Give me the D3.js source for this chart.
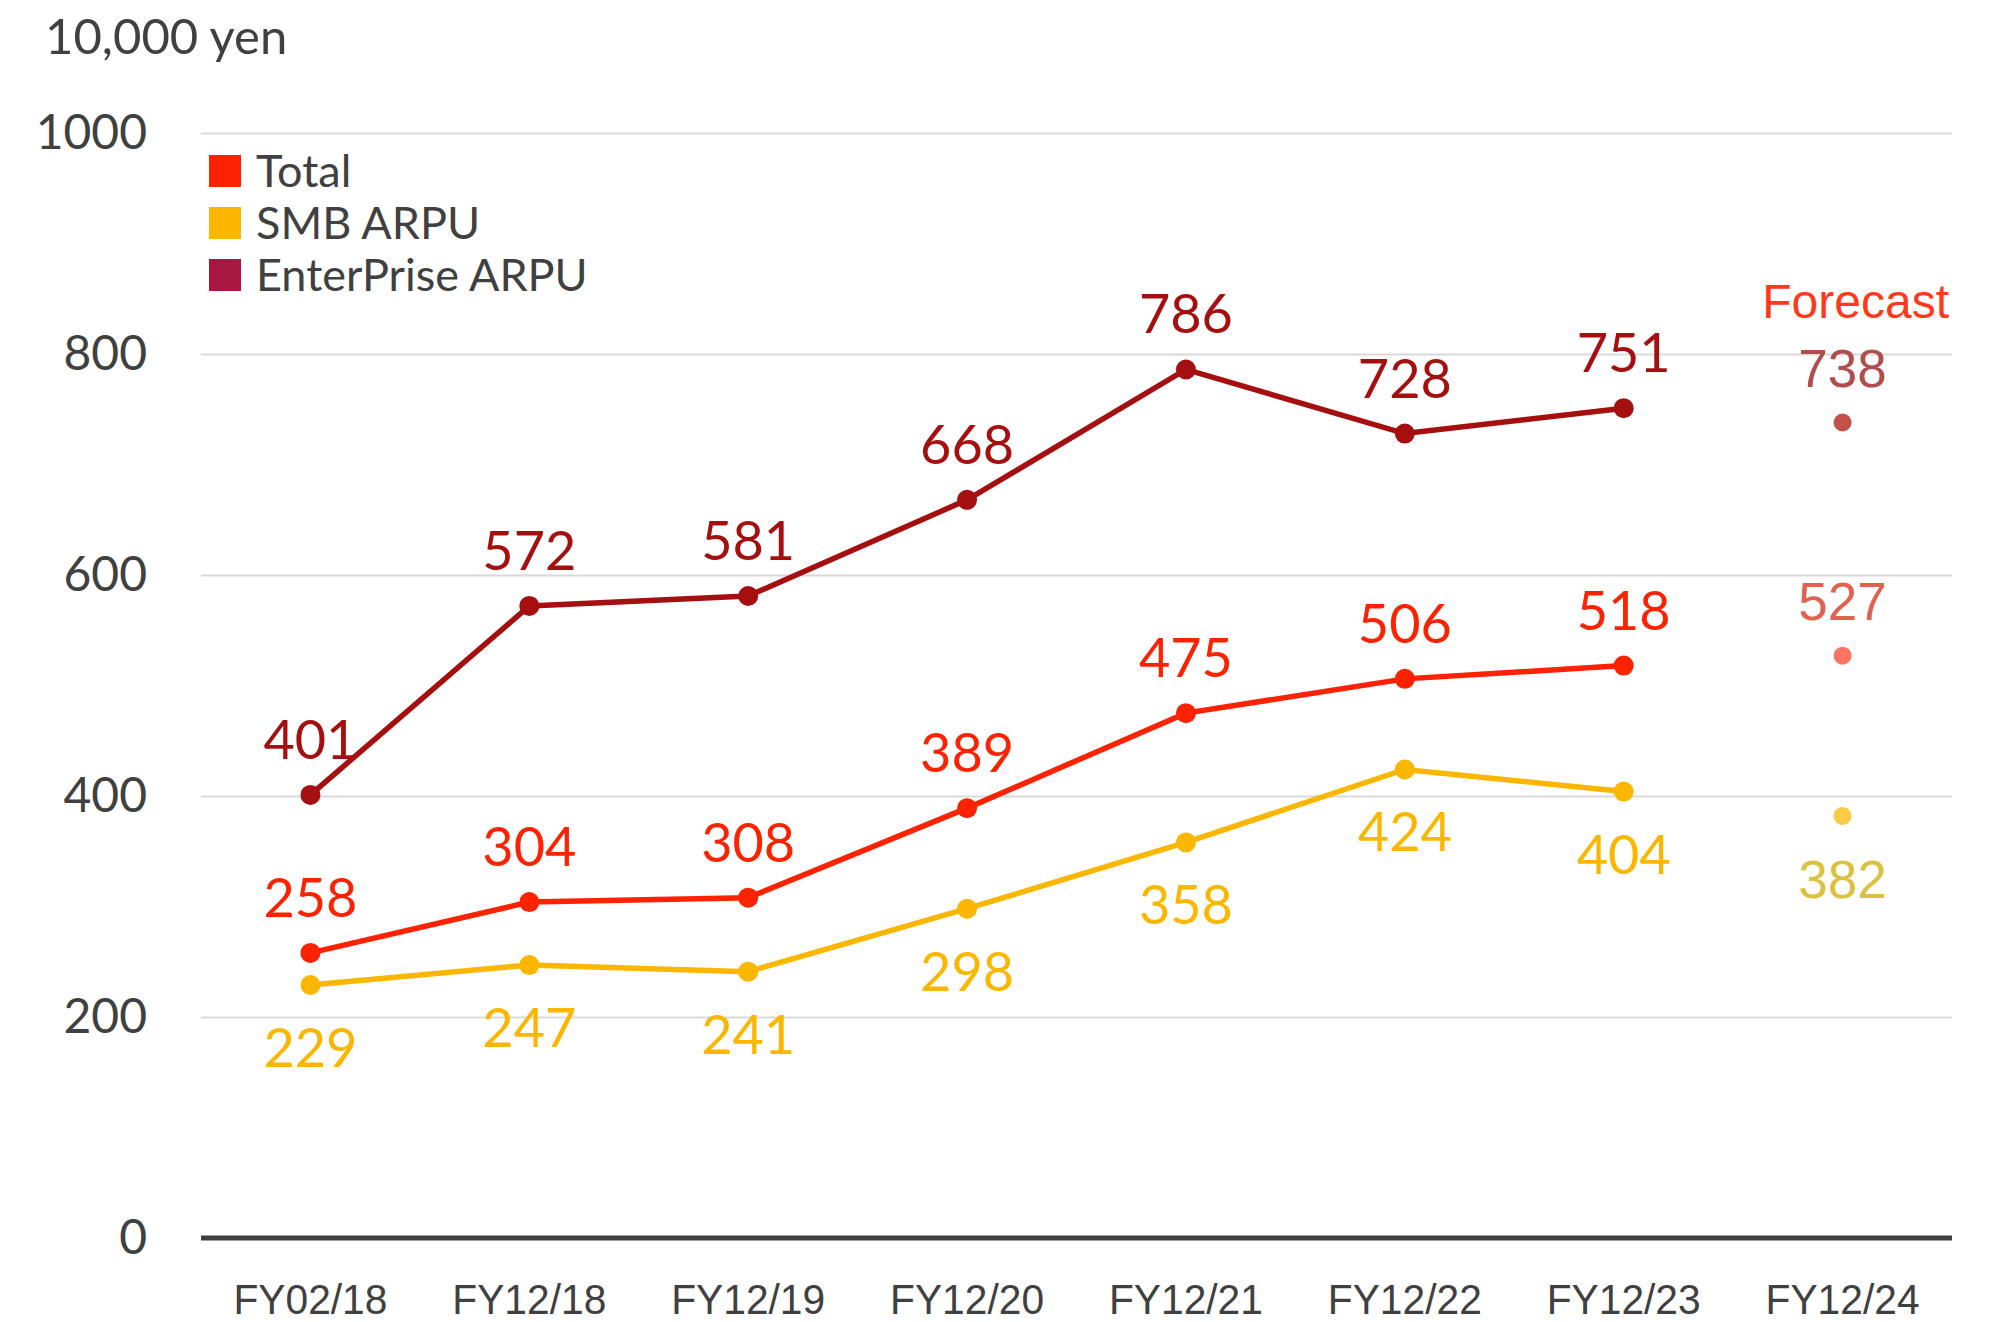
<!DOCTYPE html>
<html lang="en">
<head>
<meta charset="utf-8">
<title>ARPU chart</title>
<script src="https://d3js.org/d3.v7.min.js"></script>
<style>
  body { margin: 0; background: #fff; }
  svg { display: block; font-family: "Lato", "Noto Sans", sans-serif; }
</style>
</head>
<body>
<script>
// categories and values
const years = ["FY02/18", "FY12/18", "FY12/19", "FY12/20", "FY12/21", "FY12/22", "FY12/23", "FY12/24"];
const enterprise = [401, 572, 581, 668, 786, 728, 751];
const total = [258, 304, 308, 389, 475, 506, 518];
const smb = [229, 247, 241, 298, 358, 424, 404];
// FY12/24 forecast
const fcEnterprise = 738, fcTotal = 527, fcSmb = 382;
const yTicks = [0, 200, 400, 600, 800, 1000];

const W = 2008, H = 1322;
const svg = d3.select("body").append("svg").attr("width", W).attr("height", H);

const x = d3.scaleBand().domain(years).range([201, 1952]);
const y = d3.scaleLinear().domain([0, 1000]).range([1238, 133]);
const cx = d => x(d) + x.bandwidth() / 2;

// gridlines + y labels
const yAxis = svg.append("g")
  .attr("transform", "translate(201,0)")
  .call(d3.axisLeft(y).tickValues(yTicks).tickSize(-1751).tickPadding(54).tickFormat(d3.format("d")));
yAxis.select(".domain").remove();
yAxis.selectAll(".tick line").attr("stroke", "#d9d9d9").attr("stroke-width", 2);
yAxis.selectAll(".tick text").attr("fill", "#404040").style("font-size", "48px")
  .style("font-family", "Lato, sans-serif");

// baseline
svg.append("line").attr("x1", 201).attr("x2", 1952).attr("y1", y(0)).attr("y2", y(0))
  .attr("stroke", "#404040").attr("stroke-width", 5);

// x labels
const xAxis = svg.append("g").attr("transform", `translate(0,${y(0)})`)
  .call(d3.axisBottom(x).tickSize(0).tickPadding(46));
xAxis.select(".domain").remove();
xAxis.selectAll(".tick text").attr("fill", "#404040").style("font-size", "42px")
  .style("font-family", "Liberation Sans, sans-serif")
  .attr("textLength", 154).attr("lengthAdjust", "spacingAndGlyphs");

// unit label
svg.append("text").attr("x", 45).attr("y", 54).attr("fill", "#404040")
  .style("font-size", "49px").text("10,000 yen");

const series = [
  {name: "EnterPrise ARPU", vals: enterprise, color: "#a50f0f", key: "#a8173f", dy: -36, fc: fcEnterprise, fcDot: "#c4504a", fcText: "#b24d4d"},
  {name: "Total", vals: total, color: "#ff2200", key: "#ff2200", dy: -36, fc: fcTotal, fcDot: "#ff7363", fcText: "#e0634f"},
  {name: "SMB ARPU", vals: smb, color: "#fbb700", key: "#fbb700", dy: 82, fc: fcSmb, fcDot: "#fbcb45", fcText: "#dcc040"}
];

const line = d3.line().x((d, i) => cx(years[i])).y(d => y(d));

series.forEach(s => {
  const g = svg.append("g");
  g.append("path").datum(s.vals).attr("d", line)
    .attr("fill", "none").attr("stroke", s.color).attr("stroke-width", 5.5);
  g.selectAll("circle").data(s.vals).join("circle")
    .attr("cx", (d, i) => cx(years[i])).attr("cy", d => y(d)).attr("r", 10)
    .attr("fill", s.color);
  g.selectAll("text").data(s.vals).join("text")
    .attr("x", (d, i) => cx(years[i])).attr("y", d => y(d) + s.dy)
    .attr("text-anchor", "middle").attr("fill", s.color)
    .style("font-size", "54px").text(d => d);
  // forecast
  g.append("circle").attr("cx", cx(years[7])).attr("cy", y(s.fc)).attr("r", 9).attr("fill", s.fcDot);
  g.append("text").attr("x", cx(years[7])).attr("y", y(s.fc) + s.dy)
    .attr("text-anchor", "middle").attr("fill", s.fcText)
    .style("font-family", "Liberation Sans, sans-serif")
    .style("font-size", "53px").text(s.fc);
});

svg.append("text").attr("x", 1949).attr("y", 318).attr("text-anchor", "end")
  .attr("fill", "#ff3a1a").style("font-family", "Liberation Sans, sans-serif")
  .style("font-size", "48px").text("Forecast");

// legend
const legend = [series[1], series[2], series[0]];
const lg = svg.append("g");
legend.forEach((s, i) => {
  const cy = 171 + i * 52;
  lg.append("rect").attr("x", 209).attr("y", cy - 16).attr("width", 32).attr("height", 32).attr("fill", s.key);
  lg.append("text").attr("x", 256).attr("y", cy).attr("dy", "0.36em")
    .attr("fill", "#404040").style("font-size", "45px").text(s.name);
});
</script>
</body>
</html>
